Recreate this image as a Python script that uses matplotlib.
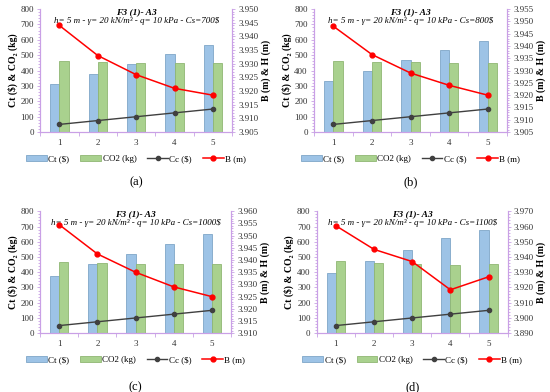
import matplotlib
matplotlib.use("Agg")
import matplotlib.pyplot as plt
from matplotlib.ticker import MultipleLocator, FormatStrFormatter
import numpy as np

plt.rcParams["font.family"] = ["Liberation Serif", "DejaVu Serif"]

cats = [1, 2, 3, 4, 5]
cc = [50, 75, 100, 125, 150]

ct_a = [310, 378, 443, 505, 568]
co2_a = [462, 455, 452, 450, 449]
b_a = [3.944, 3.933, 3.926, 3.921, 3.9185]

ct_b = [332, 400, 468, 533, 595]
co2_b = [463, 457, 455, 452, 450]
b_b = [3.948, 3.9365, 3.929, 3.924, 3.920]

ct_c = [378, 452, 520, 587, 652]
co2_c = [468, 462, 457, 455, 452]
b_c = [3.9545, 3.9425, 3.935, 3.929, 3.925]

ct_d = [398, 475, 545, 623, 677]
co2_d = [472, 462, 457, 450, 452]
b_d = [3.9605, 3.945, 3.937, 3.9185, 3.927]

cs_labels = ["700$", "800$", "1000$", "1100$"]
panel_labels = ["(a)", "(b)", "(c)", "(d)"]
right_lims = [(3.905, 3.950, 0.005), (3.905, 3.955, 0.005),
              (3.910, 3.960, 0.005), (3.890, 3.970, 0.010)]

# axes rectangles in figure fractions
rects = [[0.073, 0.663, 0.349, 0.314], [0.571, 0.663, 0.351, 0.314],
         [0.073, 0.150, 0.347, 0.311], [0.576, 0.150, 0.347, 0.311]]
label_y = [-0.41, -0.41, -0.44, -0.44]

fig = plt.figure(figsize=(5.5, 3.92), dpi=100)

spine_col = "#c9a0e6"
data = [(ct_a, co2_a, b_a), (ct_b, co2_b, b_b), (ct_c, co2_c, b_c), (ct_d, co2_d, b_d)]

for i, (ct, co2, bm) in enumerate(data):
    ax = fig.add_axes(rects[i])
    x = np.array(cats)
    w = 0.24
    hb1 = ax.bar(x - w / 2, ct, w, color="#9dc3e6", edgecolor="#7fa6c8", linewidth=0.6)
    hb2 = ax.bar(x + w / 2, co2, w, color="#a9d18e", edgecolor="#8fb673", linewidth=0.6)
    (hl1,) = ax.plot(x, cc, color="#404040", marker="o", markersize=3, linewidth=1)
    ax.set_xlim(0.5, 5.5)
    ax.set_ylim(0, 800)
    ax.yaxis.set_major_locator(MultipleLocator(100))
    ax.yaxis.set_minor_locator(MultipleLocator(20))
    ax.set_xticks(cats)
    ax.set_xticks(np.arange(0.5, 6, 1), minor=True)
    ax.set_ylabel("Ct (\\$) & CO₂ (kg)", fontsize=7, fontweight="bold", labelpad=2)

    ax2 = ax.twinx()
    (hl2,) = ax2.plot(x, bm, color="#ff0000", marker="o", markersize=3.5, linewidth=1.1)
    lo, hi, st = right_lims[i]
    ax2.set_ylim(lo, hi)
    ax2.yaxis.set_major_locator(MultipleLocator(st))
    ax2.yaxis.set_minor_locator(MultipleLocator(st / 5))
    ax2.yaxis.set_major_formatter(FormatStrFormatter("%.3f"))
    ax2.set_ylabel("B (m) & H (m)", fontsize=7, fontweight="bold", labelpad=2)

    for a in (ax, ax2):
        for s in a.spines.values():
            s.set_color(spine_col)
            s.set_linewidth(0.8)
        a.spines["top"].set_visible(False)
        a.tick_params(which="both", color=spine_col, labelsize=6.5, labelcolor="#333333",
                      length=2.5, width=0.6, pad=2)
        a.tick_params(which="minor", length=1.5)
    ax.tick_params(axis="x", which="major", length=0, pad=5)
    ax.tick_params(axis="x", which="minor", length=3, color=spine_col)

    ax.text(0.5, 0.975, "F3 (1)- A3", transform=ax.transAxes, ha="center", va="center",
            fontsize=6.8, fontweight="bold", style="italic")
    ax.text(0.5, 0.905, "h= 5 m - γ= 20 kN/m³ - q= 10 kPa - Cs=" + cs_labels[i].replace("$", r"\$"),
            transform=ax.transAxes, ha="center", va="center", fontsize=6.5, style="italic")

    ax.legend([hb1, hb2, hl1, hl2], ["Ct (\\$)", "CO2 (kg)", "Cc (\\$)", "B (m)"],
              loc="center", bbox_to_anchor=(0.5, -0.22), ncol=4, frameon=False,
              fontsize=6.5, handlelength=2.3, handleheight=0.6, columnspacing=1.2, handletextpad=0.15)
    ax.text(0.5, label_y[i], panel_labels[i], transform=ax.transAxes, ha="center", va="center", fontsize=9)

fig.savefig("out.png", dpi=100)
